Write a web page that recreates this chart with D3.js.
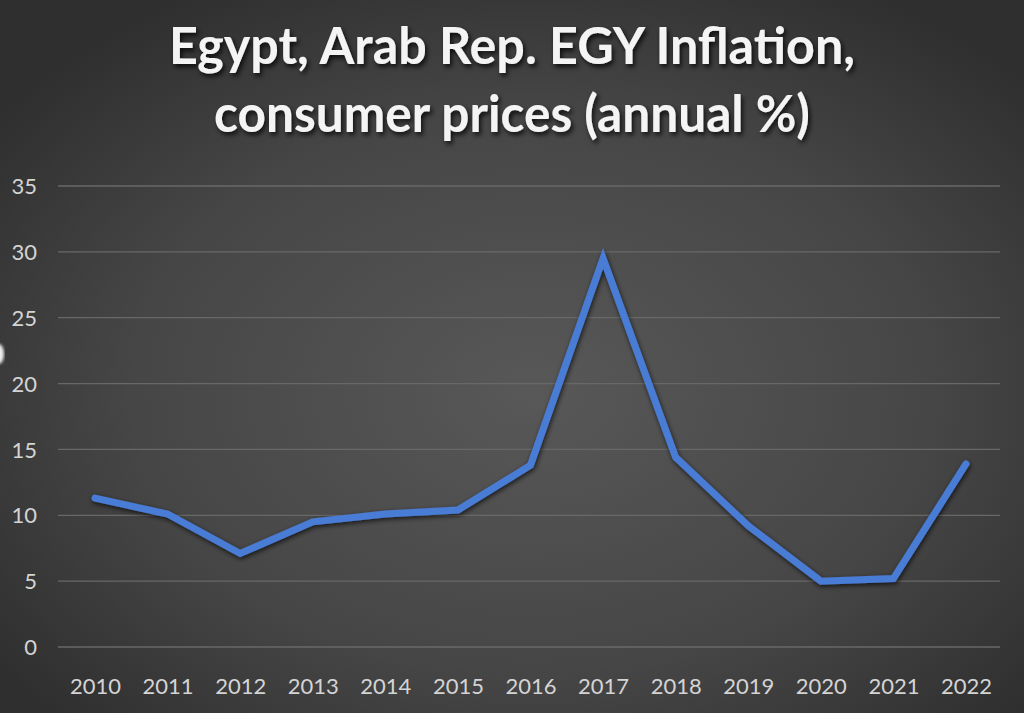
<!DOCTYPE html>
<html><head><meta charset="utf-8">
<script src="https://cdn.jsdelivr.net/npm/d3@7"></script>
<style>html,body{margin:0;padding:0;background:#333;}svg{display:block;}</style>
</head><body>
<svg id="c" width="1024" height="713"></svg>
<script>
const years = ["2010","2011","2012","2013","2014","2015","2016","2017","2018","2019","2020","2021","2022"];
const inflation = [11.3, 10.1, 7.1, 9.5, 10.1, 10.4, 13.8, 29.5, 14.4, 9.2, 5.0, 5.2, 13.9];
const yTicks = [0, 5, 10, 15, 20, 25, 30, 35];
const titleLines = ["Egypt, Arab Rep. EGY Inflation,", "consumer prices (annual %)"];

const svg = d3.select("#c");
const W = 1024, H = 713;
const defs = svg.append("defs");
const rg = defs.append("radialGradient").attr("id","bg").attr("cx","52%").attr("cy","55%").attr("r","65%");
rg.append("stop").attr("offset","0%").attr("stop-color","#585858");
rg.append("stop").attr("offset","60%").attr("stop-color","#464646");
rg.append("stop").attr("offset","100%").attr("stop-color","#2f2f2f");
svg.append("rect").attr("width",W).attr("height",H).attr("fill","url(#bg)");

const ts = defs.append("filter").attr("id","tshadow").attr("x","-10%").attr("y","-30%").attr("width","120%").attr("height","160%");
ts.append("feDropShadow").attr("dx",2).attr("dy",3).attr("stdDeviation",2.5).attr("flood-color","#000").attr("flood-opacity",0.8);
const ls = defs.append("filter").attr("id","lshadow").attr("x","-10%").attr("y","-10%").attr("width","120%").attr("height","120%");
ls.append("feDropShadow").attr("dx",1).attr("dy",2).attr("stdDeviation",2.5).attr("flood-color","#000").attr("flood-opacity",0.7);
const bl = defs.append("filter").attr("id","blur");
bl.append("feGaussianBlur").attr("stdDeviation",1.5);

const x = d3.scalePoint().domain(years).range([95, 966]);
const y = d3.scaleLinear().domain([0, 35]).range([647, 186]);

// gridlines
svg.append("g").selectAll("line").data(yTicks).join("line")
  .attr("x1",58).attr("x2",1000).attr("y1",d=>y(d)).attr("y2",d=>y(d))
  .attr("stroke","#686868").attr("stroke-width",1.3);

// y axis labels
const yAxis = d3.axisLeft(y).tickValues(yTicks).tickSize(0).tickPadding(0);
const gy = svg.append("g").attr("transform","translate(37,0)").call(yAxis);
gy.select(".domain").remove();
gy.selectAll("text").attr("fill","#d4d4d4").attr("font-family","Lato, 'Open Sans', sans-serif")
  .attr("font-size",22).attr("dy","0.35em");

// x axis labels
const xAxis = d3.axisBottom(x).tickSize(0).tickPadding(0);
const gx = svg.append("g").attr("transform","translate(0,686)").call(xAxis);
gx.select(".domain").remove();
gx.selectAll("text").attr("fill","#d4d4d4").attr("font-family","Lato, 'Open Sans', sans-serif")
  .attr("font-size",22).attr("dy","0.35em");

// line
const line = d3.line().x((d,i)=>x(years[i])).y(d=>y(d));
svg.append("path").datum(inflation).attr("d",line)
  .attr("fill","none").attr("stroke","#4a7bd4").attr("stroke-width",7)
  .attr("stroke-linejoin","miter").attr("stroke-linecap","round")
  .attr("filter","url(#lshadow)");

// title
const tWidths = [686, 596];
const tY = [46, 114];
titleLines.forEach((t,i)=>{
  const tx = svg.append("text").attr("x",512).attr("y",tY[i]).attr("text-anchor","middle")
    .attr("dy","0.35em")
    .attr("font-family","Lato, 'Open Sans', sans-serif").attr("font-weight","bold").attr("font-size",52)
    .attr("fill","#f4f4f4").attr("filter","url(#tshadow)").text(t);
  tx.attr("textLength",tWidths[i]).attr("lengthAdjust","spacingAndGlyphs");
});

// small white artifact on left edge
svg.append("ellipse").attr("cx",-1).attr("cy",354).attr("rx",5).attr("ry",10).attr("fill","#eeeeee").attr("filter","url(#blur)");
</script>
</body></html>
